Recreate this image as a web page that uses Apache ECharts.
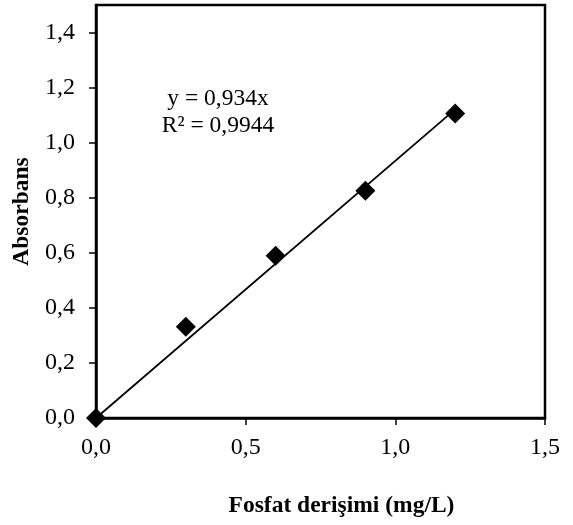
<!DOCTYPE html>
<html>
<head>
<meta charset="utf-8">
<script src="https://cdn.jsdelivr.net/npm/echarts@6/dist/echarts.min.js"></script>
<style>html,body{margin:0;padding:0;background:#fff}#c{width:573px;height:525px}</style>
</head>
<body>
<div id="c"></div>
<script>
const concX = [0, 0.3, 0.6, 0.9, 1.2];
const absY = [0, 0.331, 0.589, 0.825, 1.106];
const trendX = [0, 1.2];
const trendY = [0, 1.1208];
const yTicks = [0, 0.2, 0.4, 0.6, 0.8, 1.0, 1.2, 1.4];
const xTicks = [0, 0.5, 1.0, 1.5];
const eqLine1 = 'y = 0,934x';
const eqLine2 = 'R² = 0,9944';

const FONT = 'Liberation Serif';
const fmt = v => v.toFixed(1).replace('.', ',');

const chart = echarts.init(document.getElementById('c'), null, {renderer: 'canvas'});
chart.setOption({
  animation: false,
  backgroundColor: '#fff',
  grid: {left: 96, right: 28, top: 5, bottom: 107, show: true, borderColor: '#000', borderWidth: 2.5, backgroundColor: 'transparent'},
  xAxis: {
    type: 'value', min: 0, max: 1.5, interval: 0.5,
    name: 'Fosfat derişimi (mg/L)', nameLocation: 'middle', nameGap: 76,
    nameTextStyle: {fontFamily: FONT, fontSize: 23.5, fontWeight: 'bold', color: '#000', padding: [0, 0, 0, 42]},
    axisLine: {show: true, lineStyle: {color: '#000', width: 2.5}},
    axisTick: {show: true, inside: false, length: 7, lineStyle: {color: '#000', width: 1.5}, customValues: xTicks},
    axisLabel: {fontFamily: FONT, fontSize: 24, color: '#000', margin: 18, formatter: fmt, customValues: xTicks},
    splitLine: {show: false}
  },
  yAxis: {
    type: 'value', min: 0, max: 1.5, interval: 0.2,
    name: 'Absorbans', nameLocation: 'middle', nameGap: 60,
    nameTextStyle: {fontFamily: FONT, fontSize: 23.5, fontWeight: 'bold', color: '#000'},
    axisLine: {show: true, lineStyle: {color: '#000', width: 2.5}},
    axisTick: {show: true, inside: false, length: 7, lineStyle: {color: '#000', width: 1.5}, customValues: yTicks},
    axisLabel: {fontFamily: FONT, fontSize: 24, color: '#000', margin: 21, formatter: fmt, customValues: yTicks},
    splitLine: {show: false}
  },
  series: [
    {
      type: 'line', data: trendX.map((x, i) => [x, trendY[i]]),
      symbol: 'none', lineStyle: {color: '#000', width: 1.8}, silent: true, z: 2
    },
    {
      type: 'scatter', data: concX.map((x, i) => [x, absY[i]]),
      symbol: 'diamond', symbolSize: 20, itemStyle: {color: '#000', opacity: 1}, clip: false, z: 3
    }
  ],
  graphic: [
    {type: 'text', x: 218, y: 99,
     style: {text: eqLine1, font: '23.5px "Liberation Serif"', fill: '#000', align: 'center', verticalAlign: 'middle'}},
    {type: 'text', x: 218, y: 126,
     style: {text: eqLine2, font: '23.5px "Liberation Serif"', fill: '#000', align: 'center', verticalAlign: 'middle'}}
  ]
});
</script>
</body>
</html>
